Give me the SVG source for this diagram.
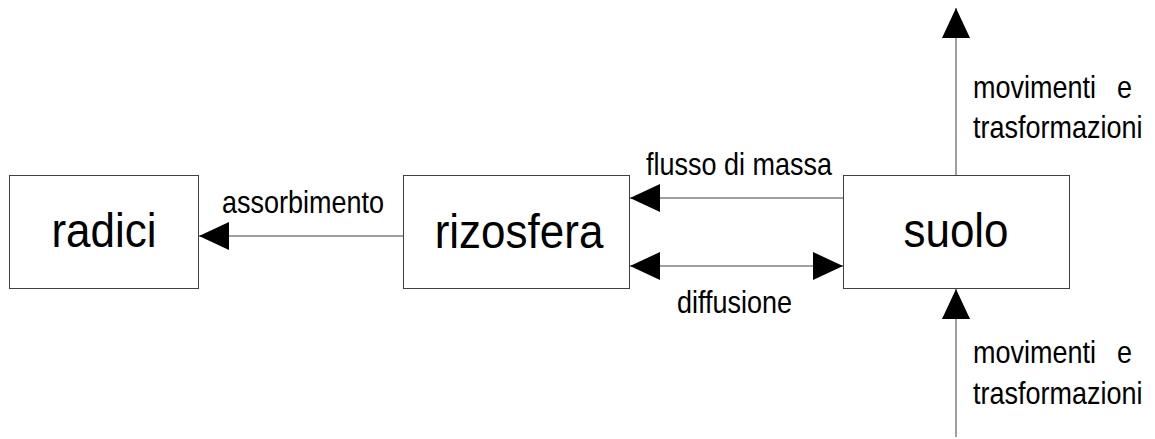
<svg xmlns="http://www.w3.org/2000/svg" width="1155" height="439" viewBox="0 0 1155 439">
  <style>
    .box { fill: #ffffff; stroke: #404040; stroke-width: 1; }
    .big { font-family: "Liberation Sans", Arial, sans-serif; font-size: 44px; fill: #000; text-anchor: middle; }
    .lbl { font-family: "Liberation Sans", Arial, sans-serif; font-size: 27px; fill: #000; }
    .conn { stroke: #404040; stroke-width: 1; fill: none; }
  </style>
  <defs>
    <marker id="head" markerUnits="userSpaceOnUse" markerWidth="30" markerHeight="28" viewBox="0 0 30 28" refX="30" refY="14" orient="auto-start-reverse">
      <path d="M0,0 L30,14 L0,28 Z" fill="#000"/>
    </marker>
  </defs>
  <rect width="1155" height="439" fill="#ffffff"/>

  <g id="connectors">
    <line class="conn" x1="403" y1="236" x2="199" y2="236" marker-end="url(#head)"/>
    <line class="conn" x1="843" y1="198" x2="630" y2="198" marker-end="url(#head)"/>
    <line class="conn" x1="630" y1="266" x2="843" y2="266" marker-start="url(#head)" marker-end="url(#head)"/>
    <line class="conn" x1="956" y1="175" x2="956" y2="8" marker-end="url(#head)"/>
    <line class="conn" x1="956" y1="437" x2="956" y2="289" marker-end="url(#head)"/>
    <!-- labels are drawn slightly tall: scaled 1.15 vertically about their baseline -->
    <text class="lbl" transform="translate(222 213) scale(1 1.15)">assorbimento</text>
    <text class="lbl" transform="translate(646 175) scale(1 1.15)">flusso di massa</text>
    <text class="lbl" transform="translate(677 313) scale(1 1.15)">diffusione</text>
    <text class="lbl" transform="translate(973 98) scale(1 1.15)"><tspan x="0">movimenti</tspan><tspan x="144">e</tspan></text>
    <text class="lbl" transform="translate(973 138) scale(1 1.15)">trasformazioni</text>
    <text class="lbl" transform="translate(973 363) scale(1 1.15)"><tspan x="0">movimenti</tspan><tspan x="144">e</tspan></text>
    <text class="lbl" transform="translate(973 404) scale(1 1.15)">trasformazioni</text>
  </g>

  <g id="radici">
    <rect class="box" x="9.5" y="175.5" width="189" height="113"/>
    <text class="big" transform="translate(104 247) scale(1 1.09)">radici</text>
  </g>
  <g id="rizosfera">
    <rect class="box" x="403.5" y="175.5" width="226" height="113"/>
    <text class="big" transform="translate(519 248) scale(1 1.09)">rizosfera</text>
  </g>
  <g id="suolo">
    <rect class="box" x="843.5" y="175.5" width="226" height="113"/>
    <text class="big" transform="translate(956 247) scale(1 1.09)">suolo</text>
  </g>
</svg>
